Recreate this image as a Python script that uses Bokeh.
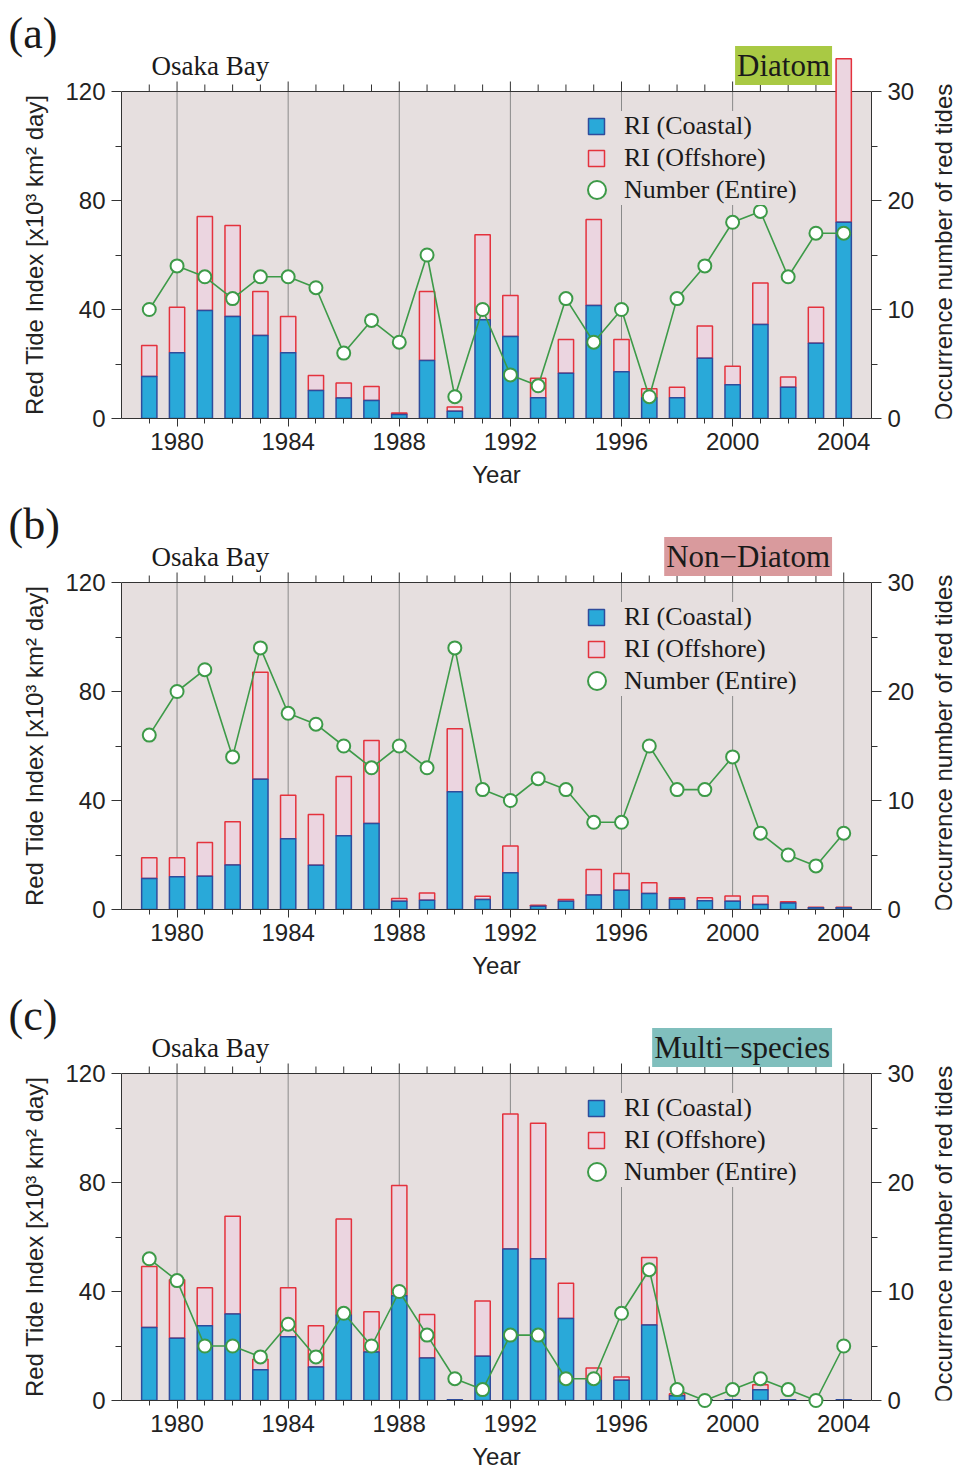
import math
from bokeh.plotting import figure
from bokeh.models import (Range1d, LinearAxis, FixedTicker, Label, Legend,
                          LegendItem, ColumnDataSource, BoxAnnotation)
from bokeh.layouts import column, row
from bokeh.embed import file_html
from bokeh.resources import INLINE

# ---------------- data ----------------
years = list(range(1979, 2005))
major_years = [1980, 1984, 1988, 1992, 1996, 2000, 2004]
minor_years = [y for y in years if y not in major_years]
left_ticks = [0, 40, 80, 120]
left_minor = [20, 60, 100]
right_ticks = [0, 10, 20, 30]
right_minor = [5, 15, 25]

# (a) Diatom
coastal_a = [15.4, 24.1, 39.6, 37.4, 30.5, 24.1, 10.3, 7.5, 6.6, 1.5, 21.3, 2.7, 36.2,
             30.1, 7.6, 16.6, 41.5, 17.2, 7.6, 7.6, 22.1, 12.4, 34.5, 11.5, 27.6, 72.0]
offshore_a = [11.4, 16.7, 34.5, 33.4, 16.1, 13.3, 5.5, 5.5, 5.1, 0.5, 25.3, 1.5, 31.2,
              15.0, 7.2, 12.4, 31.5, 11.8, 3.3, 3.9, 11.8, 6.8, 15.2, 3.7, 13.2, 60.0]
number_a = [10, 14, 13, 11, 13, 13, 12, 6, 9, 7, 15, 2, 10,
            4, 3, 11, 7, 10, 2, 11, 14, 18, 19, 13, 17, 17]

# (b) Non-Diatom
coastal_b = [11.4, 12.0, 12.2, 16.3, 47.8, 26.0, 16.2, 27.1, 31.6, 3.0, 3.4, 43.2, 3.7,
             13.5, 1.2, 3.0, 5.3, 7.1, 5.9, 3.8, 3.2, 3.0, 1.8, 2.4, 0.6, 0.6]
offshore_b = [7.6, 7.0, 12.4, 15.9, 39.3, 15.9, 18.7, 21.7, 30.4, 1.0, 2.7, 23.1, 1.2,
              9.8, 0.4, 0.7, 9.4, 6.1, 3.9, 0.5, 1.1, 2.0, 3.2, 0.4, 0.2, 0.2]
number_b = [16, 20, 22, 14, 24, 18, 17, 15, 13, 15, 13, 24, 11,
            10, 12, 11, 8, 8, 15, 11, 11, 14, 7, 5, 4, 7]

# (c) Multi-species
coastal_c = [26.8, 22.8, 27.4, 31.7, 11.3, 23.4, 12.3, 31.4, 17.8, 38.4, 15.6, 0.3, 16.2,
             55.6, 52.0, 30.1, 7.4, 7.4, 27.7, 1.7, 0.3, 0.3, 3.9, 0.3, 0.0, 0.3]
offshore_c = [22.4, 21.5, 14.0, 35.9, 3.8, 18.0, 15.1, 35.2, 14.8, 40.5, 16.0, 0.0, 20.3,
              49.5, 49.7, 12.9, 4.5, 1.2, 24.8, 0.8, 0.0, 0.0, 1.9, 0.0, 0.0, 0.0]
number_c = [13, 11, 5, 5, 4, 7, 4, 8, 5, 10, 6, 2, 1,
            6, 6, 2, 2, 8, 12, 1, 0, 1, 2, 1, 0, 5]

SANS = "Liberation Sans"
SERIF = "Liberation Serif"
BG = "#e6dfdf"
COAST_FILL = "#29a9d9"
COAST_LINE = "#2f4c9c"
OFF_FILL = "#ebd5e0"
OFF_LINE = "#e4323d"
GREEN = "#3d9a48"
AXC = "#333333"
GRIDC = "#8a8a8a"
TXT = "#1a1a1a"

H = 491                     # height of one panel
BOTTOM = 73                 # bottom border (x axis)
LEFT_W = 62                 # left strip (panel tag + y title)
RIGHT_W = 40                # right strip (right y title)
MAIN_W = 957 - LEFT_W - RIGHT_W
PX = 327.0 / 120.0          # pixels per index unit
FRAME_BOTTOM = H - BOTTOM   # 418 px
Y_TOP = FRAME_BOTTOM / PX   # frame spans the panel from its top edge


def ypix(py):
    """data y of a pixel row (from panel top) in the shared frame mapping"""
    return (FRAME_BOTTOM - py) / PX


def style_axis(ax):
    ax.axis_line_color = AXC
    ax.major_tick_line_color = AXC
    ax.minor_tick_line_color = AXC
    ax.major_label_text_font = SANS
    ax.major_label_text_font_size = "24px"
    ax.major_label_text_color = "#222222"
    ax.axis_label_text_font = SANS
    ax.axis_label_text_font_size = "24px"
    ax.axis_label_text_font_style = "normal"
    ax.axis_label_text_color = "#222222"


def strip(width):
    s = figure(width=width, height=H, x_range=Range1d(0, width), y_range=Range1d(0, Y_TOP),
               output_backend="svg", toolbar_location=None,
               min_border_left=0, min_border_right=0, min_border_top=0,
               min_border_bottom=BOTTOM,
               x_axis_type=None, y_axis_type=None, background_fill_color="white",
               border_fill_color="white")
    s.outline_line_color = None
    return s


def make_panel(tag, group, group_color, coastal, offshore, number):
    total = [c + o for c, o in zip(coastal, offshore)]
    src = ColumnDataSource(dict(year=years, coastal=coastal, total=total, number=number))

    # ---- left strip: tag and left axis title
    ls = strip(LEFT_W)
    ls.add_layout(Label(x=8, y=ypix(33), text=tag, text_font=SERIF, text_font_size="44px",
                        text_baseline="middle", text_align="left", text_color=TXT))
    ls.add_layout(Label(x=33.5, y=ypix(251), text="Red Tide Index [x10³  km² day]",
                        angle=math.pi / 2, text_font=SANS, text_font_size="24px",
                        text_baseline="middle", text_align="center", text_color="#222222"))

    # ---- right strip: right axis title
    rs = strip(RIGHT_W)
    rs.add_layout(Label(x=26, y=ypix(252), text="Occurrence number of red tides",
                        angle=math.pi / 2, text_font=SANS, text_font_size="24px",
                        text_baseline="middle", text_align="center", text_color="#222222"))

    # ---- main chart
    p = figure(width=MAIN_W, height=H, x_range=Range1d(1978, 2005), y_range=Range1d(0, Y_TOP),
               output_backend="svg", toolbar_location=None,
               min_border_left=120 - LEFT_W, min_border_right=MAIN_W - (120 - LEFT_W) - 753,
               min_border_top=0, min_border_bottom=BOTTOM,
               background_fill_color="white", border_fill_color="white")
    p.extra_y_ranges = {"n": Range1d(0, Y_TOP / 4.0)}
    p.outline_line_color = None
    p.xgrid.visible = False
    p.ygrid.visible = False

    # shaded plotting area (0..120)
    p.add_layout(BoxAnnotation(bottom=0, top=120, fill_color=BG, fill_alpha=1.0,
                               line_color=None, level="underlay"))

    # vertical grid lines and top edge with ticks
    p.segment(x0=major_years, y0=0, x1=major_years, y1=120, line_color=GRIDC, line_width=1)
    p.hspan(y=[120], line_color=AXC, line_width=1)
    p.segment(x0=minor_years, y0=120, x1=minor_years, y1=120 + 7 / PX,
              line_color=AXC, line_width=1)
    p.segment(x0=major_years, y0=120, x1=major_years, y1=120 + 10 / PX,
              line_color=AXC, line_width=1)

    # bottom axis
    xa = p.xaxis[0]
    xa.ticker = FixedTicker(ticks=major_years, minor_ticks=years)
    xa.major_tick_out = 8
    xa.major_tick_in = 0
    xa.minor_tick_out = 5
    xa.minor_tick_in = 0
    xa.major_label_standoff = 6
    xa.axis_label = "Year"
    xa.axis_label_standoff = 8

    # left axis
    ya = p.yaxis[0]
    ya.bounds = (0, 120)
    ya.ticker = FixedTicker(ticks=left_ticks, minor_ticks=left_minor)
    ya.major_tick_out = 10
    ya.major_tick_in = 0
    ya.minor_tick_out = 6
    ya.minor_tick_in = 0
    ya.major_label_standoff = 6

    # right axis
    ra = LinearAxis(y_range_name="n", bounds=(0, 30),
                    ticker=FixedTicker(ticks=right_ticks, minor_ticks=right_minor))
    ra.major_tick_out = 10
    ra.major_tick_in = 0
    ra.minor_tick_out = 6
    ra.minor_tick_in = 0
    ra.major_label_standoff = 6
    p.add_layout(ra, "right")

    for ax in (xa, ya, ra):
        style_axis(ax)

    # bars
    r_off = p.vbar(x="year", bottom="coastal", top="total", width=0.55, source=src,
                   fill_color=OFF_FILL, line_color=OFF_LINE, line_width=1.5)
    r_coast = p.vbar(x="year", bottom=0, top="coastal", width=0.55, source=src,
                     fill_color=COAST_FILL, line_color=COAST_LINE, line_width=1.5)
    # number line
    p.line(x="year", y="number", source=src, y_range_name="n", line_color=GREEN,
           line_width=1.6, level="overlay")
    r_num = p.scatter(x="year", y="number", source=src, y_range_name="n", size=13,
                      fill_color="white", line_color=GREEN, line_width=2, level="overlay")

    lx = 465
    legend = Legend(items=[LegendItem(label="RI (Coastal)", renderers=[r_coast]),
                           LegendItem(label="RI (Offshore)", renderers=[r_off]),
                           LegendItem(label="Number (Entire)", renderers=[r_num])],
                    location=(lx, 213), margin=0, padding=12, spacing=2,
                    label_height=30, glyph_width=20, glyph_height=20, label_standoff=18,
                    background_fill_color=BG, background_fill_alpha=1.0,
                    border_line_color=None,
                    label_text_font=SERIF, label_text_font_size="26px",
                    label_text_color=TXT)
    p.add_layout(legend)
    # larger open circle for the third legend entry
    legend2 = Legend(items=[LegendItem(label=" ", renderers=[r_num])],
                     location=(lx - 12, 206), margin=0, padding=0, spacing=0,
                     glyph_width=45, glyph_height=45, label_standoff=0,
                     background_fill_alpha=0.0, border_line_color=None,
                     label_text_font=SERIF, label_text_font_size="10px")
    p.add_layout(legend2)

    # texts above the shaded area
    p.add_layout(Label(x=1979.08, y=120, y_offset=26, text="Osaka Bay", text_font=SERIF,
                       text_font_size="27px", text_baseline="middle", text_align="left",
                       text_color=TXT))
    p.add_layout(Label(x=2003.58, y=120, y_offset=26, text=group, text_font=SERIF,
                       text_font_size="31px", text_baseline="middle", text_align="right",
                       text_color=TXT, background_fill_color=group_color,
                       background_fill_alpha=1.0, padding=2))
    return row(ls, p, rs, spacing=0)


pa = make_panel("(a)", "Diatom", "#a9c944", coastal_a, offshore_a, number_a)
pb = make_panel("(b)", "Non−Diatom", "#d99a9d", coastal_b, offshore_b, number_b)
pc = make_panel("(c)", "Multi−species", "#80bfbd", coastal_c, offshore_c, number_c)

layout = column(pa, pb, pc, spacing=0)
open("out.html", "w").write(file_html(layout, INLINE))
